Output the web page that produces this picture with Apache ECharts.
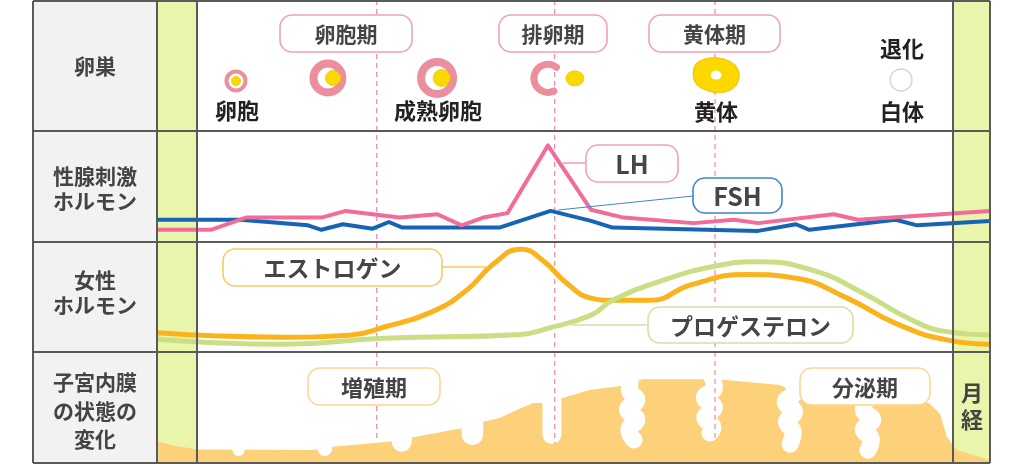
<!DOCTYPE html>
<html>
<head>
<meta charset="utf-8">
<script src="https://cdn.jsdelivr.net/npm/echarts@6/dist/echarts.min.js"></script>
<style>
html,body{margin:0;padding:0;background:#fff;}
#main{width:1024px;height:464px;}
</style>
</head>
<body>
<div id="main"></div>
<script>
// x = day of the cycle (0 = end of menses, 28 = next menses), y = relative level 0..100
var xMin = -1.5, xMax = 29.4;
var phaseDays = [6.65, 13.25, 19.2];

// 性腺刺激ホルモン
var lhData = [[-1.5,11],[0.5,11],[1.8,22],[4.6,22],[5.5,28],[7.5,22],[8.9,25],[9.8,15],[10.6,22],[11.5,26],
  [13.0,87],[14.6,29],[15.8,22],[18.4,17],[19.9,20],[20.8,17],[23.6,25],[24.5,20],[29.4,28]];
var fshData = [[-1.5,20],[1.6,20],[4.1,15],[4.6,11],[5.4,16],[6.5,12],[7.1,18],[7.6,13],[11.2,13],[13.1,28],
  [14.6,19],[15.4,13],[20.8,10],[22.2,16],[22.7,11],[25.9,20],[26.7,15],[29.4,19]];

// 女性ホルモン
var estrogenData = [[-1.5,17.5],[3.2,13.5],[5.7,15.5],[6.9,22.5],[8.7,36.5],[10,56.5],[11,80.5],[12,93.5],
  [12.8,83.5],[13.7,62.5],[14.6,49],[15.4,47],[16.8,47],[18.3,61],[20.4,70.5],[22.2,67],[24.1,49],[25.9,26],[27.8,11],[29.4,7]];
var progesteroneData = [[-1.5,11.5],[3.2,7],[6.9,12.5],[12,16],[13,21.5],[14.6,33.5],[15.4,47],[17.3,65.5],
  [19.1,77.5],[20.7,82],[22.8,74.5],[24.7,53.5],[26.5,29],[27.8,18.5],[29.4,15.5]];

// 子宮内膜 (thickness profile, notches [x0, x1, bottom], glands)
var endometriumData = [[-1.45,19.2],[-0.8,15.3],[0,12.2],[4.3,11.7],[5.0,14.7],[7.1,19.2],[8.0,23.2],[9.8,31.3],
  [10.6,37.2],[11.2,40.5],[11.85,47.7],[12.45,54.1],[12.8,54.1],[13.55,58.6],[14.55,65.8],[15.7,69.4],[16.5,75.4],
  [19.3,75.4],[21.6,70.3],[22.35,63.1],[24.75,58.6],[27.15,53.8],[27.55,44.1],[27.8,23.7],[28.15,11.7],[29.4,2.7]];
var notchData = [[1.3,1.75,6.3],[4.45,5.0,6.3],[7.2,7.95,10.2],[9.8,10.6,16.2],[12.8,13.5,17.1]];
var glandData = [
  [[16.12,82],[16.02,66],[16.3,57],[15.95,48],[16.3,39],[16.0,30],[16.2,20.7]],
  [[18.94,84],[19.18,68],[18.8,59],[19.18,50],[18.82,41],[19.12,32],[19.01,27.0]],
  [[21.91,80],[22.15,64],[21.8,55],[22.15,46],[21.85,37],[22.1,28],[21.98,17.0]],
  [[24.95,62],[24.7,48],[25.05,39],[24.7,30],[25.0,21],[24.87,11.6]]
];

// 卵巣
var follicleData = [[1.43,38.5],[4.84,40.8],[8.89,40.8]];
var follicleEggData = [[1.43,38.5],[5.03,40.8],[9.06,40.8]];
var ovulationData = [[13.0,40.5]];
var releasedEggData = [[14.0,40.5]];
var corpusLuteumData = [[19.24,43]];
var whiteBodyData = [[26.1,39.2]];

// styles
var follicleSizes = [19, 29, 32], follicleRings = [4, 8, 8], eggSizes = [9, 15, 17];
var FONT = "'Noto Sans CJK JP', sans-serif";
var rows = [[1,130],[131,111],[242,110],[352,111]];

var chart = echarts.init(document.getElementById('main'));

var grids = [], xAxes = [], yAxes = [];
rows.forEach(function (r, i) {
  grids.push({left: 157, right: 34, top: r[0], height: r[1]});
  xAxes.push({type: 'value', gridIndex: i, min: xMin, max: xMax, show: false});
  yAxes.push({type: 'value', gridIndex: i, min: 0, max: 100, show: false});
});

function lineSeries(g, data, color, width, smooth, z) {
  return {type: 'line', xAxisIndex: g, yAxisIndex: g, data: data, smooth: smooth, symbol: 'none', z: z,
    lineStyle: {color: color, width: width, join: 'round'}, silent: true};
}

var series = [
  lineSeries(1, fshData, '#1664b4', 4, false, 4),
  lineSeries(1, lhData, '#f26c9a', 4, false, 5),
  lineSeries(2, estrogenData, '#fbb31b', 5, true, 4),
  lineSeries(2, progesteroneData, '#c9df86', 5, true, 5),
  {type: 'line', xAxisIndex: 3, yAxisIndex: 3, data: endometriumData, symbol: 'none', z: 2, silent: true,
    lineStyle: {width: 0}, areaStyle: {color: '#fdd07a', opacity: 1}},
  {type: 'custom', xAxisIndex: 3, yAxisIndex: 3, data: notchData, z: 3, silent: true,
    renderItem: function (params, api) {
      var p0 = api.coord([api.value(0), 90]);
      var p1 = api.coord([api.value(1), api.value(2)]);
      var w = p1[0] - p0[0];
      return {type: 'rect', shape: {x: p0[0], y: p0[1], width: w, height: p1[1] - p0[1], r: [0, 0, w / 2, w / 2]},
        style: {fill: '#fff'}};
    }}
];
glandData.forEach(function (g) {
  var s = lineSeries(3, g, '#fff', 17, 0.5, 3);
  s.lineStyle.cap = 'round';
  series.push(s);
});
series.push(
  {type: 'scatter', xAxisIndex: 0, yAxisIndex: 0, z: 3, silent: true,
    data: follicleData.map(function (d, i) {
      return {value: d, symbolSize: follicleSizes[i], itemStyle: {borderWidth: follicleRings[i]}};
    }),
    itemStyle: {color: '#fff', borderColor: '#ec8f9c', opacity: 1}},
  {type: 'scatter', xAxisIndex: 0, yAxisIndex: 0, z: 4, silent: true,
    data: follicleEggData.map(function (d, i) { return {value: d, symbolSize: eggSizes[i]}; }),
    itemStyle: {color: '#fad800', borderColor: '#eec600', borderWidth: 0.8, opacity: 1}},
  {type: 'custom', xAxisIndex: 0, yAxisIndex: 0, data: ovulationData, z: 3, silent: true,
    renderItem: function (params, api) {
      var p = api.coord([api.value(0), api.value(1)]);
      return {type: 'arc', shape: {cx: p[0], cy: p[1], r: 14, startAngle: Math.PI * 0.36, endAngle: Math.PI * 1.71, clockwise: true},
        style: {stroke: '#ec8f9c', lineWidth: 7, fill: 'none', lineCap: 'round'}};
    }},
  {type: 'scatter', xAxisIndex: 0, yAxisIndex: 0, z: 4, silent: true, data: releasedEggData,
    symbolSize: [18, 15], itemStyle: {color: '#fad800', borderColor: '#eec600', borderWidth: 0.8, opacity: 1}},
  {type: 'scatter', xAxisIndex: 0, yAxisIndex: 0, z: 4, silent: true, data: corpusLuteumData,
    symbol: 'path://M20,8 C35,0 60,2 72,8 C88,14 100,28 96,46 C92,64 78,74 58,74 C42,76 30,70 18,64 C4,56 0,40 4,26 C6,16 12,11 20,8 Z',
    symbolSize: [46, 35], itemStyle: {color: '#fcd700', borderColor: '#eac400', borderWidth: 1, opacity: 1}},
  {type: 'scatter', xAxisIndex: 0, yAxisIndex: 0, z: 5, silent: true, data: corpusLuteumData,
    symbolSize: [11, 9], itemStyle: {color: '#fff', opacity: 1}},
  {type: 'scatter', xAxisIndex: 0, yAxisIndex: 0, z: 4, silent: true, data: whiteBodyData,
    symbolSize: 22, itemStyle: {color: '#fff', borderColor: '#d6d6d6', borderWidth: 1.5, opacity: 1}}
);

chart.setOption({animation: false, grid: grids, xAxis: xAxes, yAxis: yAxes, series: series});

// ---- frame, labels and annotations ----
function text(str, x, y, size, color, lh, z) {
  return {type: 'text', z: z || 30, silent: true,
    style: {text: str, x: x, y: y, textAlign: 'center', textVerticalAlign: 'middle', align: 'center', verticalAlign: 'middle',
      fontFamily: FONT, fontSize: size, fontWeight: 'bold', fill: color, lineHeight: lh || size}};
}
function box(str, x, y, w, h, stroke, size) {
  return [
    {type: 'rect', z: 25, silent: true, shape: {x: x, y: y, width: w, height: h, r: 12},
      style: {fill: '#fff', stroke: stroke, lineWidth: 1.6}},
    text(str, x + w / 2, y + h / 2 + 1, size, '#454545')
  ];
}
function line(x1, y1, x2, y2, color, width, z, dash) {
  return {type: 'line', z: z, silent: true, shape: {x1: x1, y1: y1, x2: x2, y2: y2},
    style: {stroke: color, lineWidth: width, lineDash: dash || null}};
}

var pink = '#f2a2b2', blue = '#3d87c9', orange = '#fcc965', green = '#cfe3a0', beige = '#fdd594';
var els = [
  {type: 'rect', z: -10, silent: true, shape: {x: 33, y: 0, width: 124, height: 464}, style: {fill: '#f2f2f2'}},
  {type: 'rect', z: -10, silent: true, shape: {x: 157, y: 0, width: 40, height: 464}, style: {fill: '#e8f5aa'}},
  {type: 'rect', z: -10, silent: true, shape: {x: 953, y: 0, width: 37, height: 464}, style: {fill: '#e8f5aa'}}
];

// pink dashed phase lines, ends in the endometrium row
var dashEnds = [442, 444, 440];
phaseDays.forEach(function (d, i) {
  var px = chart.convertToPixel({xAxisIndex: 0}, d);
  els.push(line(px, 0, px, 352, '#f48fb1', 1.3, -5, [5, 4]));
  els.push(line(px, 352, px, dashEnds[i], '#f48fb1', 1.3, 15, [5, 4]));
});

// connectors
els.push(line(563, 163, 586, 163, '#f49ab4', 1.5, 20));
els.push(line(558, 210, 693, 196, blue, 1, 20));
els.push(line(442, 267, 486, 267, orange, 1.5, 20));
els.push(line(572, 325, 648, 325, green, 1.5, 20));

[
  ['卵胞期', 280, 15, 132, 37, pink, 21],
  ['排卵期', 499, 15, 108, 37, pink, 21],
  ['黄体期', 649, 15, 131, 37, pink, 21],
  ['LH', 586, 145, 92, 37, pink, 25],
  ['FSH', 693, 178, 89, 35, blue, 25],
  ['エストロゲン', 223, 249, 219, 37, orange, 23],
  ['プロゲステロン', 648, 307, 205, 36, green, 23],
  ['増殖期', 308, 368, 132, 37, beige, 22],
  ['分泌期', 800, 368, 130, 37, beige, 22]
].forEach(function (b) { els = els.concat(box(b[0], b[1], b[2], b[3], b[4], b[5], b[6])); });

// ovary stage labels
els.push(text('卵胞', 237, 111, 22, '#222'));
els.push(text('成熟卵胞', 438, 111, 22, '#222'));
els.push(text('黄体', 716, 112, 22, '#222'));
els.push(text('白体', 902, 112, 22, '#222'));
els.push(text('退化', 902, 49, 22, '#222'));

// row titles
els.push(text('卵巣', 95, 66, 21, '#444'));
els.push(text('性腺刺激\nホルモン', 95, 189, 21, '#444', 25));
els.push(text('女性\nホルモン', 95, 293, 21, '#444', 25));
els.push(text('子宮内膜\nの状態の\n変化', 95, 411, 21, '#444', 28.5));
els.push(text('月\n経', 972, 406, 22, '#444', 27));

// frame
var frameColor = '#5a5a5a';
[33, 157, 197, 953, 990].forEach(function (x) { els.push(line(x, 1, x, 463, frameColor, 2, 40)); });
[1, 131, 242, 352, 463].forEach(function (y) { els.push(line(33, y, 990, y, frameColor, 2, 40)); });

chart.setOption({graphic: {elements: els}});
</script>
</body>
</html>
